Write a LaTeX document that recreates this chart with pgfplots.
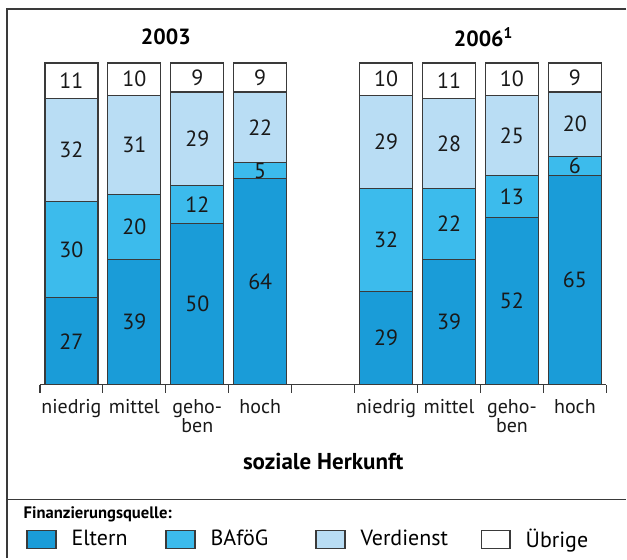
\documentclass[border=0pt]{standalone}
\usepackage{fontspec}
\setmainfont{PT Sans}
\usepackage{pgfplots}
\usepackage{pgfplotstable}
\pgfplotsset{compat=1.18}

\definecolor{eltern}{HTML}{1A9CD8}
\definecolor{bafoeg}{HTML}{3CBBEC}
\definecolor{verdienst}{HTML}{B9DDF4}
\definecolor{edge}{HTML}{3A3A3A}

% slots 0-3: 2003, slot 4 empty, slots 5-8: 2006
\pgfplotstableread{
x eltern bafoeg verdienst uebrige
0 27 30 32 11
1 39 20 31 10
2 50 12 29 9
3 64 5 22 9
5 29 32 29 10
6 39 22 28 11
7 52 13 25 10
8 65 6 20 9
}\herkunft

\begin{document}
\begin{tikzpicture}
\begin{axis}[
    scale only axis,
    width=283.5pt,
    height=161pt,
    xmin=-0.5, xmax=8.5,
    ymin=0, ymax=100,
    clip=false,
    ybar stacked,
    bar width=26.5pt,
    axis y line=none,
    axis x line*=bottom,
    axis line style={-, draw=edge, line width=0.6pt},
    xtick={-0.5,0.5,...,8.5},
    xticklabels={},
    tick align=outside,
    major tick length=4pt,
    tick style={draw=edge, line width=0.6pt},
    extra x ticks={0,1,2,3,5,6,7,8},
    extra x tick labels={niedrig,mittel,{geho-\\ben},hoch,niedrig,mittel,{geho-\\ben},hoch},
    extra x tick style={
        major tick length=0pt,
        xticklabel style={align=center, anchor=north, yshift=-4pt,
            font=\fontsize{10}{9.5}\selectfont, text=black!90},
    },
    every axis plot/.append style={draw=edge, line width=0.6pt},
    nodes near coords={\pgfmathprintnumber[assume math mode=true]{\pgfplotspointmeta}},
    every node near coord/.append style={
        anchor=center,
        font=\fontsize{11}{12}\selectfont, text=black!90,
    },
    legend columns=4,
    legend image code/.code={
        \draw[#1, draw=edge, line width=0.6pt] (0pt,-4.5pt) rectangle (14.5pt,4.5pt);
    },
    legend style={
        at={(axis cs:-0.722,-48.14)}, anchor=west,
        draw=none, fill=none, inner sep=0pt,
        font=\fontsize{11}{12}\selectfont,
        nodes={inner sep=0pt},
        /tikz/column sep=0pt,
        /tikz/every odd column/.append style={column sep=7.5pt},
        /tikz/column 2/.style={nodes={text width=47pt}},
        /tikz/column 4/.style={nodes={text width=52.5pt}},
        /tikz/column 6/.style={nodes={text width=60pt}},
    },
]
\addplot[fill=eltern] table[x=x, y=eltern] {\herkunft};
\addplot[fill=bafoeg] table[x=x, y=bafoeg] {\herkunft};
\addplot[fill=verdienst] table[x=x, y=verdienst] {\herkunft};
\addplot[fill=white] table[x=x, y=uebrige] {\herkunft};
\legend{Eltern, BAföG, Verdienst, Übrige}

% page size and frame
\path (axis cs:-1.135,119.57) rectangle (axis cs:8.817,-54.04);
\draw[edge, line width=0.7pt] (axis cs:8.817,116.77) -- (axis cs:-1.024,116.77) -- (axis cs:-1.024,-54.04)
    (axis cs:-1.024,-35.71) -- (axis cs:8.817,-35.71);

\node[font=\fontsize{11}{12}\selectfont\bfseries] at (axis cs:1.5,108.1) {2003};
\node[font=\fontsize{11}{12}\selectfont\bfseries] at (axis cs:6.55,108.1) {2006\textsuperscript{1}};
\node[font=\fontsize{11.5}{12}\selectfont\bfseries] at (axis cs:4,-23.9) {soziale Herkunft};
\node[font=\fontsize{8.3}{9}\selectfont\bfseries, anchor=west] at (axis cs:-0.87,-40.37) {Finanzierungsquelle:};
\end{axis}
\end{tikzpicture}
\end{document}
